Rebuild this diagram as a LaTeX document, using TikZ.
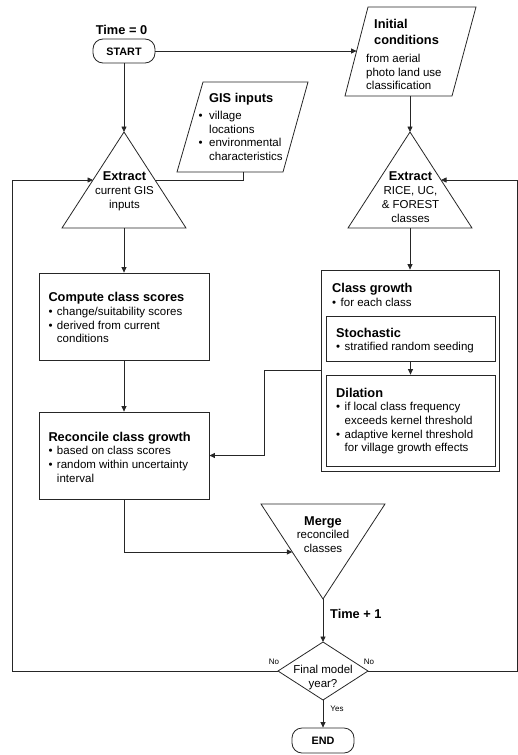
\documentclass[tikz,border=0pt]{standalone}
\usepackage{fontspec}
\setmainfont{Liberation Sans}
\usetikzlibrary{arrows.meta}
\newcommand{\ftitle}{\fontsize{12.8}{15.7}\selectfont\bfseries}
\newcommand{\fbody}{\fontsize{11.5}{13.6}\selectfont}
\newcommand{\fsmall}{\fontsize{8}{9}\selectfont}
\newcommand{\bul}{\makebox[8.5pt][l]{•}}
\newcommand{\ind}{\hspace*{8.5pt}}
\newcommand{\gbul}{\makebox[10.5pt][l]{•}}
\newcommand{\gind}{\hspace*{10.5pt}}
\begin{document}
\begin{tikzpicture}[x=1pt,y=-1pt,
  line/.style={draw=black!85, line width=0.8pt},
  arr/.style={line, -{Triangle[length=5.5pt,width=5pt]}},
  box/.style={line, rectangle, inner sep=0pt, fill=white},
  rbox/.style={box, rounded corners=10pt},
  txt/.style={inner sep=0pt, anchor=base west, text=black},
  ctxt/.style={inner sep=0pt, anchor=base, text=black},
]
\useasboundingbox (0,0) rectangle (518,755);

% ---------- shapes ----------
\node[rbox, minimum width=62pt, minimum height=24pt] (start) at (124,51) {};
\node[rbox, minimum width=62pt, minimum height=25pt] (end) at (323,740.5) {};

% GIS inputs parallelogram
\draw[line] (203,82) -- (308,82) -- (283,172) -- (177,172) -- cycle;
\coordinate (gisB) at (243,172);

% Initial conditions parallelogram
\draw[line] (368,7) -- (476,7) -- (452,96) -- (345,96) -- cycle;
\coordinate (iniL) at (356.6,51);
\coordinate (iniB) at (410,96);

% Left extract triangle
\draw[line] (124,132) -- (186,228) -- (62,228) -- cycle;
\coordinate (exLtop) at (124,132);
\coordinate (exLbot) at (124,228);
\coordinate (exLw) at (93,180);
\coordinate (exLe) at (155,180);

% Right extract triangle
\draw[line] (410,132) -- (472,228) -- (348,228) -- cycle;
\coordinate (exRtop) at (410,132);
\coordinate (exRbot) at (410,228);
\coordinate (exRe) at (441,180);

% Boxes
\node[box, minimum width=170pt, minimum height=87pt] (compute) at (124,316.5) {};
\node[box, minimum width=170pt, minimum height=87pt] (reconcile) at (124,455.5) {};
\node[box, minimum width=178pt, minimum height=201pt] (growth) at (410,370.5) {};
\node[box, minimum width=169pt, minimum height=45pt] (stoch) at (410.5,338.5) {};
\node[box, minimum width=169pt, minimum height=91pt] (dil) at (410.5,420.5) {};

% Merge triangle
\draw[line] (261,504) -- (385,504) -- (323,599) -- cycle;
\coordinate (mgW) at (292.3,552);
\coordinate (mgB) at (323,599);

% Decision diamond
\draw[line] (323,642) -- (368,671) -- (323,700) -- (278,671) -- cycle;
\coordinate (dN) at (323,642);
\coordinate (dE) at (368,671);
\coordinate (dS) at (323,700);
\coordinate (dW) at (278,671);

\coordinate (loopL) at (12,180);
\coordinate (loopR) at (517,180);

% ---------- connectors ----------
\draw[arr] (start.east) -- (iniL);
\draw[arr] (start.south) -- (exLtop);
\draw[line] (gisB) |- (exLe);
\draw[arr] (dW) -| (loopL) -- (exLw);
\draw[arr] (dE) -| (loopR) -- (exRe);
\draw[arr] (exLbot) -- (compute.north);
\draw[arr] (compute.south) -- (reconcile.north);
\draw[arr] (iniB) -- (exRtop);
\draw[arr] (exRbot) -- (growth.north);
\draw[arr] (stoch.south) -- (dil.north);
\draw[arr] (growth.west) -- ++(-56,0) |- (reconcile.east);
\draw[arr] (reconcile.south) |- (mgW);
\draw[arr] (mgB) -- (dN);
\draw[arr] (dS) -- (end.north);

% ---------- texts ----------
\node[ctxt] (t0) at (121.5,34.5) {\ftitle Time = 0};
\node[ctxt] (starttext) at (124,55) {\fontsize{10.8}{12}\selectfont\bfseries START};
\node[ctxt] (endtext) at (323,744.5) {\fontsize{10.8}{12}\selectfont\bfseries END};

\node[txt] (gistext) at (198.5,102.2) {\vtop{\fbody
  \hbox{\ftitle\gind GIS inputs}\vskip3.7pt
  \hbox{\gbul village}
  \hbox{\gind locations}
  \hbox{\gbul environmental}
  \hbox{\gind characteristics}}};

\node[txt] (initial) at (374,28.8) {\vtop{\ftitle
  \hbox{Initial}
  \hbox{conditions}}};
\node[txt] (initialb) at (366,62.6) {\vtop{\fbody\baselineskip=13.4pt
  \hbox{from aerial}
  \hbox{photo land use}
  \hbox{classification}}};

\node[ctxt] (exLtext) at (124.5,180.2) {\vtop{\fbody\baselineskip=14pt
  \halign{\hfil#\hfil\cr \ftitle Extract\cr current GIS\cr inputs\cr}}};
\node[ctxt] (exRtext) at (410.5,180.2) {\vtop{\fbody\baselineskip=14pt
  \halign{\hfil#\hfil\cr \ftitle Extract\cr RICE, UC,\cr \& FOREST\cr classes\cr}}};

\node[txt] (computetext) at (48.3,301.8) {\vtop{\fbody
  \hbox{\ftitle Compute class scores}
  \hbox{\bul change/suitability scores}
  \hbox{\bul derived from current}
  \hbox{\ind conditions}}};

\node[txt] (recontext) at (48.3,441.2) {\vtop{\fbody
  \hbox{\ftitle Reconcile class growth}
  \hbox{\bul based on class scores}
  \hbox{\bul random within uncertainty}
  \hbox{\ind interval}}};

\node[txt] (growthtext) at (332,292.8) {\vtop{\fbody
  \hbox{\ftitle Class growth}
  \hbox{\bul for each class}}};

\node[txt] (stochtext) at (336,337.2) {\vtop{\fbody
  \hbox{\ftitle Stochastic}
  \hbox{\bul stratified random seeding}}};

\node[txt] (diltext) at (336,397.2) {\vtop{\fbody
  \hbox{\ftitle Dilation}
  \hbox{\bul if local class frequency}
  \hbox{\ind exceeds kernel threshold}
  \hbox{\bul adaptive kernel threshold}
  \hbox{\ind for village growth effects}}};

\node[ctxt] (mergetext) at (323,525.2) {\vtop{\fbody\baselineskip=13.6pt
  \halign{\hfil#\hfil\cr \ftitle Merge\cr reconciled\cr classes\cr}}};

\node[txt] (tplus) at (330,618.8) {\ftitle Time + 1};

\node[ctxt] (dectext) at (323,673.3) {\vtop{\fbody\baselineskip=13.8pt
  \halign{\hfil#\hfil\cr Final model\cr year?\cr}}};

\node[ctxt] (nol) at (274,664) {\fsmall No};
\node[ctxt] (nor) at (369,664) {\fsmall No};
\node[ctxt] (yes) at (337,711) {\fsmall Yes};
\end{tikzpicture}
\end{document}
